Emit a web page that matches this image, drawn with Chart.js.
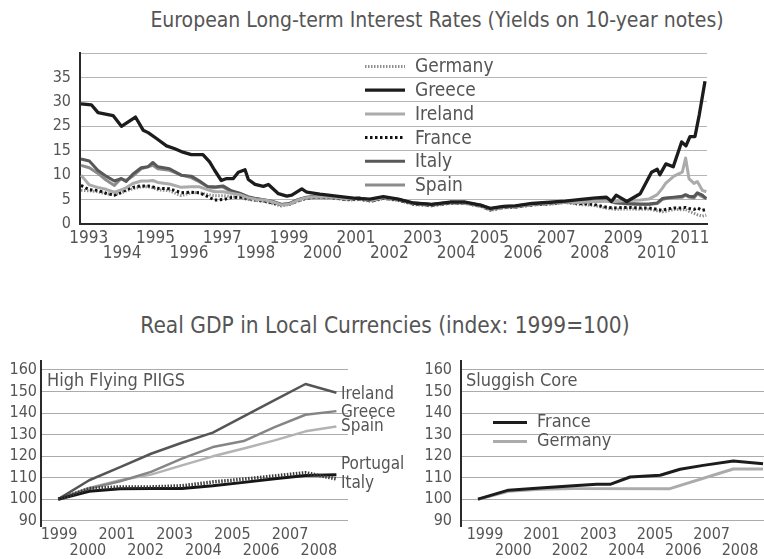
<!DOCTYPE html>
<html><head><meta charset="utf-8">
<script src="https://cdn.jsdelivr.net/npm/chart.js@4.4.0/dist/chart.umd.min.js"></script>
<style>
html,body{margin:0;padding:0;background:#fff;width:764px;height:559px;overflow:hidden;}
.t{position:absolute;white-space:nowrap;color:#555;font-family:'DejaVu Sans Condensed','DejaVu Sans',sans-serif;font-stretch:condensed;line-height:24px;transform:translateX(-50%);}
canvas{position:absolute;}
</style></head><body>
<div class="t" style="left:437px;top:8px;font-size:21px;">European Long-term Interest Rates (Yields on 10-year notes)</div>
<div class="t" style="left:385px;top:313px;font-size:22.5px;">Real GDP in Local Currencies (index: 1999=100)</div>
<canvas id="c1" width="764" height="225" style="left:0;top:40px"></canvas>
<canvas id="c2" width="440" height="209" style="left:0;top:350px"></canvas>
<canvas id="c3" width="364" height="209" style="left:400px;top:350px"></canvas>
<script>
// ---------- Long-term interest rates (yields, %) ----------
const rateYears = [1993.0,1993.25,1993.5,1993.75,1994.0,1994.2,1994.35,1994.55,1994.8,1995.0,1995.15,1995.3,1995.65,1996.0,1996.3,1996.55,1996.8,1997.0,1997.25,1997.5,1997.75,1998.0,1998.25,1998.5,1998.75,1999.0,1999.25,1999.5,1999.75,2000.0,2000.5,2001.0,2001.35,2001.7,2002.05,2002.5,2002.95,2003.5,2004.05,2004.5,2005.0,2005.25,2005.65,2006.0,2006.5,2007.15,2007.5,2007.9,2008.35,2008.75,2009.0,2009.35,2009.75,2010.0,2010.25,2010.4,2010.5,2010.75,2011.0,2011.1,2011.2,2011.35,2011.45,2011.6,2011.72];
const germany = [6.9,6.8,6.6,6.2,6.0,6.3,6.8,7.2,7.6,7.6,7.4,7.0,6.8,5.8,6.4,6.4,6.0,5.8,5.8,5.6,5.4,5.0,4.8,4.6,4.1,3.7,4.0,4.7,5.2,5.4,5.3,4.9,5.0,4.6,5.2,4.8,4.0,3.7,4.2,4.2,3.5,2.8,3.3,3.4,3.9,4.1,4.4,4.0,3.8,3.2,3.0,3.1,3.0,3.0,2.7,2.5,2.6,3.0,2.9,3.0,2.6,2.2,1.9,1.6,1.8];
const ireland = [10.0,8.0,7.5,7.1,6.5,7.0,7.4,8.3,8.8,8.8,8.9,8.5,8.2,7.5,7.6,7.6,7.0,6.6,6.6,6.3,6.0,5.4,5.0,4.9,4.5,3.9,4.1,4.9,5.4,5.6,5.5,5.1,5.2,4.8,5.4,5.0,4.2,3.9,4.4,4.3,3.7,3.0,3.5,3.6,4.0,4.3,4.5,4.4,4.6,4.7,4.6,4.8,4.9,5.1,6.0,7.3,8.3,9.8,10.6,13.5,9.3,8.3,8.7,6.9,6.6];
const france = [7.9,7.0,6.9,6.3,5.9,6.5,7.0,7.5,7.8,7.8,7.6,7.3,7.2,6.4,6.5,6.4,5.6,4.9,5.0,5.4,5.5,5.2,4.9,4.7,4.3,3.9,4.1,4.8,5.3,5.5,5.4,5.0,5.1,4.7,5.3,4.9,4.1,3.8,4.3,4.3,3.6,2.9,3.4,3.5,3.9,4.2,4.5,4.2,4.0,3.4,3.3,3.4,3.3,3.3,3.0,2.8,3.0,3.3,3.3,3.4,3.2,3.0,3.3,2.8,3.0];
const italy = [13.3,12.9,11.0,9.8,8.8,9.3,8.7,10.2,11.5,11.7,12.6,11.7,11.3,10.0,9.8,8.8,7.6,7.6,7.8,6.8,6.3,5.6,5.2,4.9,4.6,4.0,4.2,5.0,5.5,5.7,5.6,5.2,5.3,4.8,5.4,5.0,4.3,4.0,4.4,4.4,3.8,3.1,3.6,3.7,4.1,4.4,4.6,4.5,4.6,4.9,4.4,4.2,4.1,4.1,4.3,5.2,5.3,5.5,5.7,6.0,5.7,5.6,6.4,5.9,5.2];
const spain = [12.0,11.5,10.4,9.0,7.9,9.3,8.9,9.8,11.3,11.7,12.0,11.3,11.0,10.0,9.5,8.6,7.6,7.4,7.6,6.6,6.2,5.5,5.1,4.9,4.5,4.0,4.2,5.0,5.4,5.6,5.5,5.1,5.3,4.8,5.4,5.0,4.2,4.0,4.4,4.3,3.7,3.0,3.5,3.6,4.0,4.3,4.5,4.4,4.6,4.8,4.3,4.1,4.0,4.0,4.2,5.0,5.2,5.4,5.5,5.9,5.5,5.3,6.2,5.6,5.2];
const greeceYears = [1993.0,1993.31,1993.51,1993.96,1994.21,1994.63,1994.86,1995.01,1995.26,1995.56,1995.81,1996.05,1996.3,1996.65,1996.85,1997.0,1997.2,1997.36,1997.56,1997.71,1997.91,1998.01,1998.21,1998.46,1998.61,1998.91,1999.16,1999.31,1999.61,1999.76,2000.15,2000.65,2001.15,2001.65,2002.05,2002.5,2002.95,2003.5,2004.05,2004.5,2005.0,2005.25,2005.65,2006.0,2006.5,2007.15,2007.5,2007.9,2008.34,2008.73,2008.88,2009.02,2009.34,2009.74,2010.08,2010.25,2010.33,2010.51,2010.73,2010.98,2011.11,2011.23,2011.38,2011.51,2011.68];
const greece = [24.6,24.4,22.8,22.2,20.0,21.9,19.2,18.7,17.5,16.0,15.4,14.7,14.2,14.2,12.7,11.0,8.9,9.3,9.3,10.6,11.1,9.1,8.1,7.7,8.1,6.2,5.7,5.9,7.2,6.5,6.1,5.7,5.3,5.1,5.6,5.1,4.3,4.0,4.5,4.5,3.8,3.2,3.6,3.7,4.2,4.5,4.7,5.0,5.3,5.5,4.6,5.9,4.6,6.2,10.6,11.2,10.1,12.3,11.7,16.8,16.0,17.9,17.9,22.4,29.2];
const rateTickYears = [1993,1994,1995,1996,1997,1998,1999,2000,2001,2002,2003,2004,2005,2006,2007,2008,2009,2010,2011];
const rateTickValues = [0,5,10,15,20,25,30,35];
const rateTickLabels = ['0','5','10','15','25','30','35',''];

// ---------- Real GDP, index 1999=100 ----------
const gdpYears = [1999,2000,2001,2002,2003,2004,2005,2006,2007,2008];
const irelandGdp = [100,108.8,114.9,121.1,126.2,130.9,138.5,146.0,153.5,149.4];
const greeceGdp = [100,105.0,108.3,112.7,118.8,124.2,127.0,133.5,139.2,140.9];
const spainGdp = [100,105.2,108.8,111.4,115.7,119.9,123.5,127.3,131.5,133.8];
const portugalGdp = [100,103.7,104.8,105.0,105.0,106.2,107.8,109.5,111.0,111.4];
const italyGdp = [100,104.9,105.7,105.7,106.2,108.0,109.3,110.8,112.3,109.4];
const franceYears = [1999.0,1999.96,2000.96,2002.01,2002.75,2003.17,2003.8,2004.75,2005.38,2006.11,2007.06,2008.0];
const franceGdp = [100,104.2,105.2,106.2,106.9,106.9,110.3,111.1,113.9,115.7,117.7,116.5];
const germanyYears = [1999.0,1999.96,2000.96,2002.01,2005.06,2007.06,2008.0];
const germanyGdp = [100,103.7,104.6,104.9,104.9,114.0,114.0];
const gdpTickYears = [1999,2000,2001,2002,2003,2004,2005,2006,2007,2008];
const gdpTickValues = [90,100,110,120,130,140,150,160];

// ---------- helpers & style ----------
const FONT = "'DejaVu Sans Condensed','DejaVu Sans',sans-serif";
const NARROW = "'Liberation Sans Narrow','DejaVu Sans Condensed',sans-serif";
Chart.defaults.font.family = FONT;
Chart.defaults.color = '#555';
const pts = (xs, ys) => xs.map((x, i) => ({x: x, y: ys[i]}));
const stagger = v => (v % 2 ? [String(v)] : ['', String(v)]);
const fixTicks = vals => (s => { s.ticks = vals.map(v => ({value: v})); });
const fitY = w => (s => { s.width = w; s.paddingTop = 0; s.paddingBottom = 0; });
const fitX = h => (s => { s.height = h; s.paddingLeft = 0; s.paddingRight = 0; });
const common = {
  responsive: false, animation: false, events: [],
  elements: {point: {radius: 0}, line: {tension: 0, borderJoinStyle: 'round', fill: false}},
  plugins: {legend: {display: false}, tooltip: {enabled: false}}
};

// legend drawn inside the rates chart
const rateLegend = {
  id: 'rateLegend',
  afterDatasetsDraw(chart) {
    const ctx = chart.ctx;
    chart.data.datasets.forEach((ds, i) => {
      const y = 26.5 + i * 23.7;
      ctx.save();
      ctx.strokeStyle = ds.borderColor; ctx.lineWidth = ds.borderWidth;
      ctx.setLineDash(ds.borderDash || []);
      ctx.beginPath(); ctx.moveTo(365, y); ctx.lineTo(405, y); ctx.stroke();
      ctx.setLineDash([]);
      ctx.fillStyle = '#555'; ctx.font = '19px ' + FONT; ctx.textBaseline = 'middle';
      ctx.fillText(ds.label, 415, y + 1);
      ctx.restore();
    });
  }
};

new Chart(document.getElementById('c1'), {
  type: 'line',
  data: {datasets: [
    {label: 'Germany', data: pts(rateYears, germany), borderColor: '#8f8f8f', borderWidth: 3, borderDash: [1.5, 1.5], order: 5},
    {label: 'Greece', data: pts(greeceYears, greece), borderColor: '#1c1c1c', borderWidth: 3.3, order: 0},
    {label: 'Ireland', data: pts(rateYears, ireland), borderColor: '#ababab', borderWidth: 3, order: 1},
    {label: 'France', data: pts(rateYears, france), borderColor: '#111111', borderWidth: 3, borderDash: [2.5, 2.5], order: 2},
    {label: 'Italy', data: pts(rateYears, italy), borderColor: '#585858', borderWidth: 3, order: 3},
    {label: 'Spain', data: pts(rateYears, spain), borderColor: '#8c8c8c', borderWidth: 3, order: 4}
  ]},
  options: Object.assign({}, common, {
    layout: {padding: {top: 13, right: 57, left: 0, bottom: 0}},
    scales: {
      x: {type: 'linear', min: 1992.97, max: 2011.74,
        afterBuildTicks: fixTicks(rateTickYears),
        afterFit: fitX(41),
        grid: {display: false, drawTicks: false},
        border: {display: true, color: '#2a2a2a', width: 2},
        ticks: {autoSkip: false, maxRotation: 0, minRotation: 0, labelOffset: 7.7, padding: 7,
          font: {family: NARROW, size: 17, lineHeight: 0.9}, color: '#555', callback: stagger}},
      y: {type: 'linear', min: 0, max: 35,
        afterBuildTicks: fixTicks(rateTickValues),
        afterFit: fitY(80),
        grid: {color: '#b5b5b5', lineWidth: 1, drawTicks: false},
        border: {display: true, color: '#2a2a2a', width: 2},
        ticks: {padding: 9, font: {size: 16}, color: '#555',
          callback: v => rateTickLabels[rateTickValues.indexOf(v)]}}
    }
  }),
  plugins: [rateLegend]
});

// ---------- bottom panels ----------
const gdpNudge = [2, 1, 0.5, -10, 4.5];
const piigsLabels = {
  id: 'piigsLabels',
  afterDatasetsDraw(chart) {
    const ctx = chart.ctx, ys = chart.scales.y, ca = chart.chartArea;
    ctx.save();
    ctx.fillStyle = '#555'; ctx.font = '17px ' + FONT; ctx.textBaseline = 'middle';
    chart.data.datasets.forEach((ds, i) => {
      const last = ds.data[ds.data.length - 1].y;
      ctx.fillText(ds.label, ca.right - 7, ys.getPixelForValue(last) + gdpNudge[i]);
    });
    ctx.font = '18px ' + FONT;
    ctx.fillText('High Flying PIIGS', ca.left + 6, ca.top + 20);
    ctx.restore();
  }
};
const coreLabels = {
  id: 'coreLabels',
  afterDatasetsDraw(chart) {
    const ctx = chart.ctx, ca = chart.chartArea;
    ctx.save();
    ctx.fillStyle = '#555'; ctx.textBaseline = 'middle';
    ctx.font = '18px ' + FONT;
    ctx.fillText('Sluggish Core', ca.left + 5, ca.top + 20);
    chart.data.datasets.forEach((ds, i) => {
      const y = 72.5 + i * 19;
      ctx.strokeStyle = ds.borderColor; ctx.lineWidth = ds.borderWidth;
      ctx.beginPath(); ctx.moveTo(93, y); ctx.lineTo(127, y); ctx.stroke();
      ctx.font = '18px ' + FONT;
      ctx.fillText(ds.label, 137, y);
    });
    ctx.restore();
  }
};

function gdpScales(o) {
  return {
    x: {type: 'linear', display: false, min: o.dmin, max: o.dmax},
    xl: {type: 'linear', position: 'bottom', min: o.lmin, max: o.lmax,
      afterBuildTicks: fixTicks(gdpTickYears),
      afterFit: fitX(33),
      grid: {display: false, drawTicks: false},
      border: {display: false},
      ticks: {autoSkip: false, maxRotation: 0, minRotation: 0, padding: 1,
        font: {family: NARROW, size: 16, lineHeight: 1}, color: '#555', callback: stagger}},
    y: {type: 'linear', min: 87.54, max: 164.18,
      afterBuildTicks: fixTicks(gdpTickValues),
      afterFit: fitY(o.yw),
      grid: {color: '#ababab', lineWidth: 1, drawTicks: false},
      border: {display: true, color: '#2a2a2a', width: 2},
      ticks: {padding: o.pad, font: {size: 16}, color: '#555'}}
  };
}

new Chart(document.getElementById('c2'), {
  type: 'line',
  data: {datasets: [
    {label: 'Ireland', data: pts(gdpYears, irelandGdp), borderColor: '#555555', borderWidth: 2.5, order: 3},
    {label: 'Greece', data: pts(gdpYears, greeceGdp), borderColor: '#858585', borderWidth: 2.5, order: 4},
    {label: 'Spain', data: pts(gdpYears, spainGdp), borderColor: '#b3b3b3', borderWidth: 2.5, order: 5},
    {label: 'Portugal', data: pts(gdpYears, portugalGdp), borderColor: '#161616', borderWidth: 3, order: 2},
    {label: 'Italy', data: pts(gdpYears, italyGdp), borderColor: '#3a3a3a', borderWidth: 3.5, borderDash: [1.5, 1.5], order: 1}
  ]},
  options: Object.assign({}, common, {
    layout: {padding: {top: 11, right: 92, left: 0, bottom: 0}},
    scales: gdpScales({dmin: 1998.44, dmax: 2008.375, lmin: 1998.376, lmax: 2009.01, yw: 41, pad: 4})
  }),
  plugins: [piigsLabels]
});

new Chart(document.getElementById('c3'), {
  type: 'line',
  data: {datasets: [
    {label: 'France', data: pts(franceYears, franceGdp), borderColor: '#1c1c1c', borderWidth: 3, order: 1},
    {label: 'Germany', data: pts(germanyYears, germanyGdp), borderColor: '#ababab', borderWidth: 3, order: 2}
  ]},
  options: Object.assign({}, common, {
    layout: {padding: {top: 11, right: 0, left: 0, bottom: 0}},
    scales: gdpScales({dmin: 1998.463, dmax: 2008.03, lmin: 1998.153, lmax: 2008.848, yw: 61, pad: 9})
  }),
  plugins: [coreLabels]
});
</script>
</body></html>
